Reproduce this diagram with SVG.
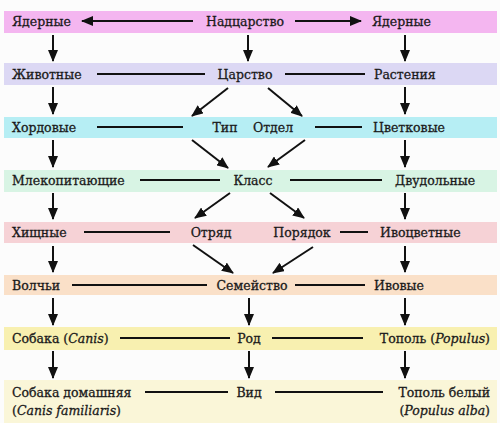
<svg xmlns="http://www.w3.org/2000/svg" width="500" height="423" viewBox="0 0 500 423">
<style>
text{font-family:"DejaVu Serif","Liberation Serif",serif;font-size:12.5px;fill:#1a1a1a;stroke:#1a1a1a;stroke-width:0.3}
.c{text-anchor:middle}
.r{text-anchor:end}
.ln{stroke:#111;stroke-width:2;fill:none}
.ar{stroke:#111;stroke-width:2;fill:none;marker-end:url(#ah)}
</style>
<defs>
<marker id="ah" markerUnits="userSpaceOnUse" markerWidth="12" markerHeight="10" refX="11" refY="5" orient="auto">
<path d="M0,0 L12,5 L0,10 Z" fill="#111"/>
</marker>
</defs>
<rect width="500" height="423" fill="#fcfcfc"/>
<g id="bands">
<rect x="4" y="11" width="493" height="22" fill="#f4b6f0"/>
<rect x="4" y="63" width="493" height="22" fill="#dcd8f4"/>
<rect x="4" y="117" width="493" height="21" fill="#b6eef4"/>
<rect x="4" y="170" width="493" height="22" fill="#d8f4e4"/>
<rect x="4" y="222" width="493" height="21" fill="#f6d2d6"/>
<rect x="4" y="275" width="493" height="20" fill="#fae0c8"/>
<rect x="4" y="327" width="493" height="23" fill="#f8f0b0"/>
<rect x="4" y="380" width="493" height="43" fill="#faf6d8"/>
</g>
<g id="connectors">
<line class="ar" x1="193" y1="21" x2="82" y2="21"/>
<line class="ar" x1="295" y1="21" x2="361" y2="21"/>
<line class="ar" x1="53" y1="35" x2="53" y2="61"/>
<line class="ar" x1="248" y1="35" x2="248" y2="61"/>
<line class="ar" x1="405" y1="35" x2="405" y2="61"/>
<line class="ln" x1="97" y1="74" x2="205" y2="74"/>
<line class="ln" x1="285" y1="74" x2="365" y2="74"/>
<line class="ar" x1="53" y1="87" x2="53" y2="114"/>
<line class="ar" x1="405" y1="87" x2="405" y2="114"/>
<line class="ar" x1="228" y1="88" x2="192" y2="116"/>
<line class="ar" x1="268" y1="88" x2="302" y2="116"/>
<line class="ln" x1="97" y1="127" x2="183" y2="127"/>
<line class="ln" x1="315" y1="127" x2="362" y2="127"/>
<line class="ar" x1="53" y1="140" x2="53" y2="167"/>
<line class="ar" x1="405" y1="140" x2="405" y2="167"/>
<line class="ar" x1="192" y1="140" x2="228" y2="168"/>
<line class="ar" x1="305" y1="140" x2="268" y2="167"/>
<line class="ln" x1="140" y1="180" x2="220" y2="180"/>
<line class="ln" x1="290" y1="180" x2="382" y2="180"/>
<line class="ar" x1="53" y1="193" x2="53" y2="219"/>
<line class="ar" x1="405" y1="193" x2="405" y2="219"/>
<line class="ar" x1="230" y1="193" x2="195" y2="218"/>
<line class="ar" x1="270" y1="193" x2="304" y2="218"/>
<line class="ln" x1="84" y1="232" x2="170" y2="232"/>
<line class="ln" x1="340" y1="232" x2="368" y2="232"/>
<line class="ar" x1="53" y1="246" x2="53" y2="272"/>
<line class="ar" x1="405" y1="246" x2="405" y2="272"/>
<line class="ar" x1="193" y1="245" x2="233" y2="273"/>
<line class="ar" x1="313" y1="247" x2="273" y2="273"/>
<line class="ln" x1="72" y1="285" x2="207" y2="285"/>
<line class="ln" x1="295" y1="285" x2="365" y2="285"/>
<line class="ar" x1="53" y1="298" x2="53" y2="325"/>
<line class="ar" x1="249" y1="298" x2="249" y2="325"/>
<line class="ar" x1="405" y1="298" x2="405" y2="325"/>
<line class="ln" x1="120" y1="338" x2="230" y2="338"/>
<line class="ln" x1="272" y1="338" x2="363" y2="338"/>
<line class="ar" x1="53" y1="351" x2="53" y2="378"/>
<line class="ar" x1="249" y1="351" x2="249" y2="378"/>
<line class="ar" x1="405" y1="351" x2="405" y2="378"/>
<line class="ln" x1="145" y1="392" x2="228" y2="392"/>
<line class="ln" x1="275" y1="392" x2="383" y2="392"/>
</g>
<g id="n-yadernye-l"><text x="12" y="26">Ядерные</text></g>
<g id="n-nadtsarstvo"><text class="c" x="245" y="26">Надцарство</text></g>
<g id="n-yadernye-r"><text x="372" y="26">Ядерные</text></g>
<g id="n-zhivotnye"><text x="12" y="79">Животные</text></g>
<g id="n-tsarstvo"><text class="c" x="245" y="79">Царство</text></g>
<g id="n-rasteniya"><text x="374" y="79">Растения</text></g>
<g id="n-hordovye"><text x="12" y="132">Хордовые</text></g>
<g id="n-tip"><text class="c" x="225" y="132">Тип</text></g>
<g id="n-otdel"><text class="c" x="273" y="132">Отдел</text></g>
<g id="n-tsvetkovye"><text x="373" y="132">Цветковые</text></g>
<g id="n-mlekopitayushchie"><text x="12" y="185">Млекопитающие</text></g>
<g id="n-klass"><text class="c" x="253" y="185">Класс</text></g>
<g id="n-dvudolnye"><text x="395" y="185">Двудольные</text></g>
<g id="n-hishchnye"><text x="12" y="237">Хищные</text></g>
<g id="n-otryad"><text class="c" x="211" y="237">Отряд</text></g>
<g id="n-poryadok"><text class="c" x="302" y="237">Порядок</text></g>
<g id="n-ivotsvetnye"><text x="380" y="237">Ивоцветные</text></g>
<g id="n-volchi"><text x="12" y="290">Волчьи</text></g>
<g id="n-semeystvo"><text class="c" x="252" y="290">Семейство</text></g>
<g id="n-ivovye"><text x="374" y="290">Ивовые</text></g>
<g id="n-sobaka"><text x="12" y="343">Собака (<tspan font-style="italic">Canis</tspan>)</text></g>
<g id="n-rod"><text class="c" x="249" y="343">Род</text></g>
<g id="n-topol"><text class="r" x="490" y="343">Тополь (<tspan font-style="italic">Populus</tspan>)</text></g>
<g id="n-sobaka-domashnyaya"><text x="12" y="397">Собака домашняя</text><text x="12" y="415">(<tspan font-style="italic">Canis familiaris</tspan>)</text></g>
<g id="n-vid"><text class="c" x="249" y="397">Вид</text></g>
<g id="n-topol-belyy"><text class="r" x="490" y="397">Тополь белый</text><text class="r" x="490" y="415">(<tspan font-style="italic">Populus alba</tspan>)</text></g>
</svg>
